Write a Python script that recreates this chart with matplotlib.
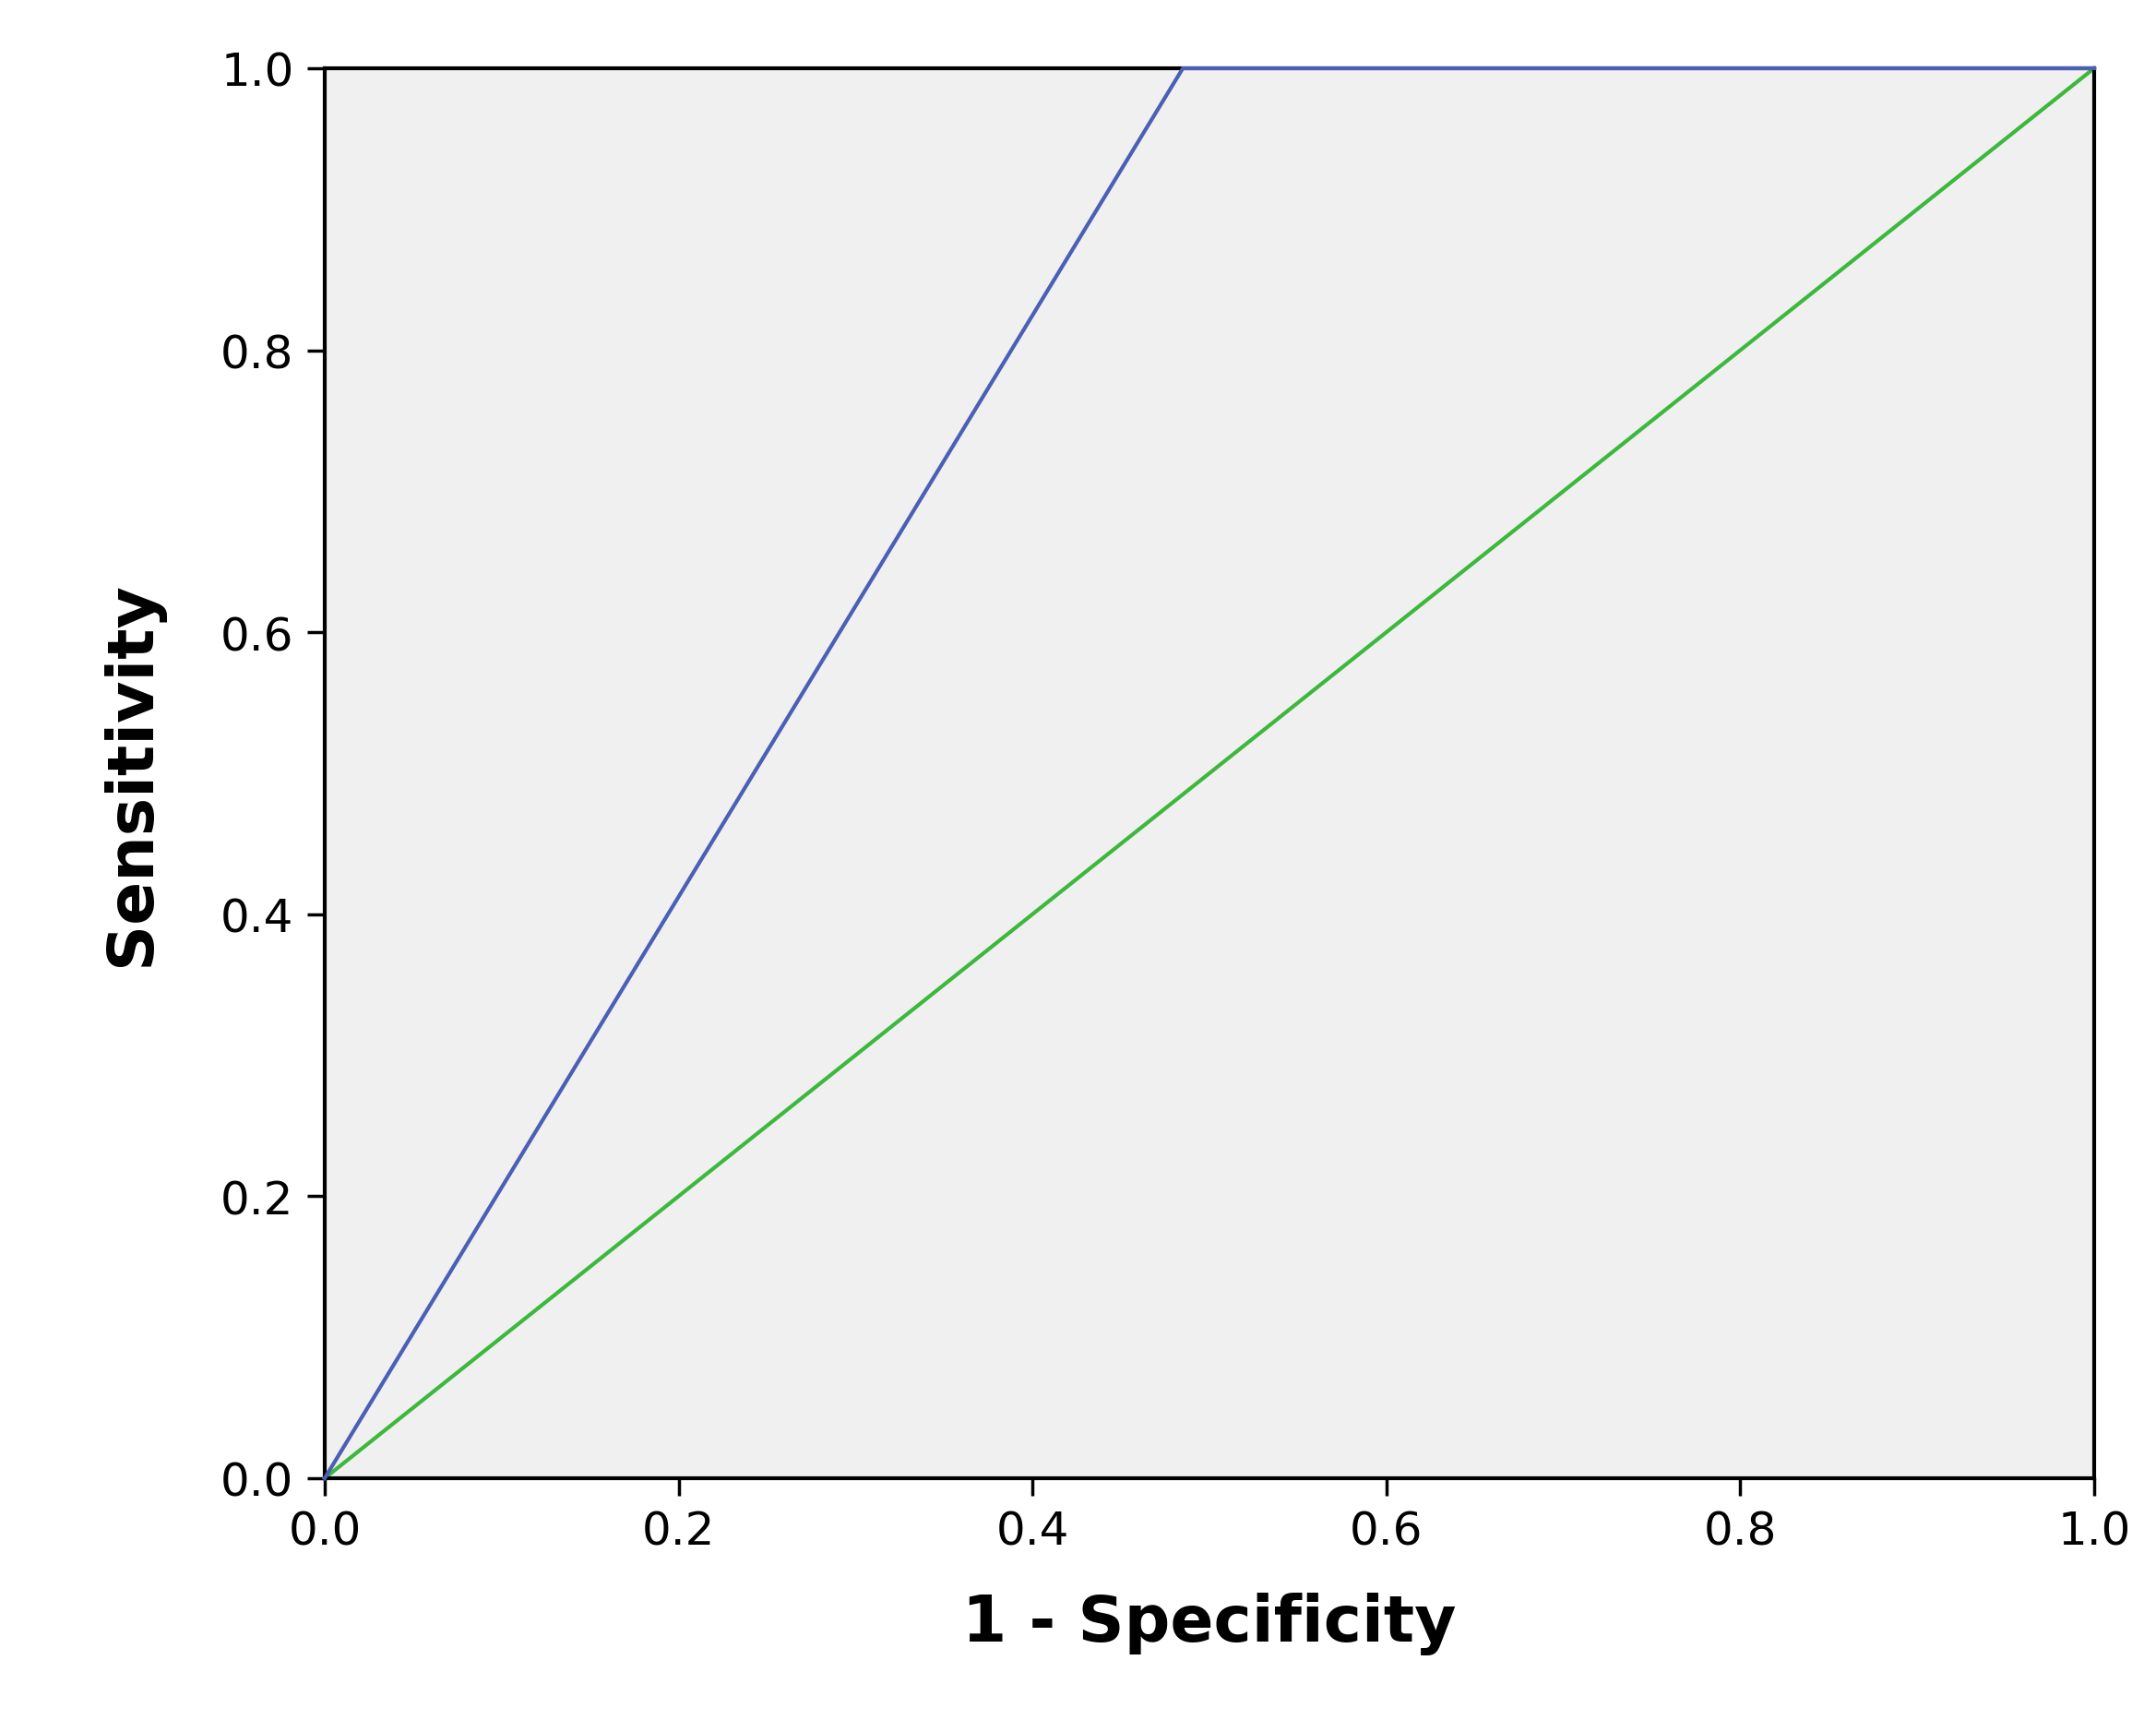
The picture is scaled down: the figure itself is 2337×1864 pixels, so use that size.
import matplotlib
matplotlib.use("Agg")
import matplotlib.pyplot as plt

roc_x = [0.0, 0.485, 1.0]
roc_y = [0.0, 1.0, 1.0]
ref_x = [0.0, 1.0]
ref_y = [0.0, 1.0]
ticks = [0.0, 0.2, 0.4, 0.6, 0.8, 1.0]

plt.rcParams['font.family'] = ['DejaVu Sans']
fig = plt.figure(figsize=(23.37, 18.65), dpi=100)
ax = fig.add_axes([0.1506, 0.1405, 0.8207, 0.8193])
ax.set_facecolor('#f0f0f0')
ax.plot(roc_x, roc_y, color='#4a5fb5', lw=3, clip_on=False, zorder=3)
ax.plot(ref_x, ref_y, color='#3cb83c', lw=3, clip_on=False, zorder=2)
ax.set_xlim(0, 1); ax.set_ylim(0, 1)
ax.set_xticks(ticks); ax.set_yticks(ticks)
ax.set_xticklabels([f"{t:.1f}" for t in ticks])
ax.set_yticklabels([f"{t:.1f}" for t in ticks])
ax.tick_params(labelsize=36, length=14, width=2.5, pad=10)
for s in ax.spines.values():
    s.set_linewidth(3)
ax.set_xlabel('1 - Specificity', fontsize=50, fontweight='bold', labelpad=30)
ax.set_ylabel('Sensitivity', fontsize=50, fontweight='bold', labelpad=45)
fig.savefig('out.png', dpi=100, facecolor='white')
